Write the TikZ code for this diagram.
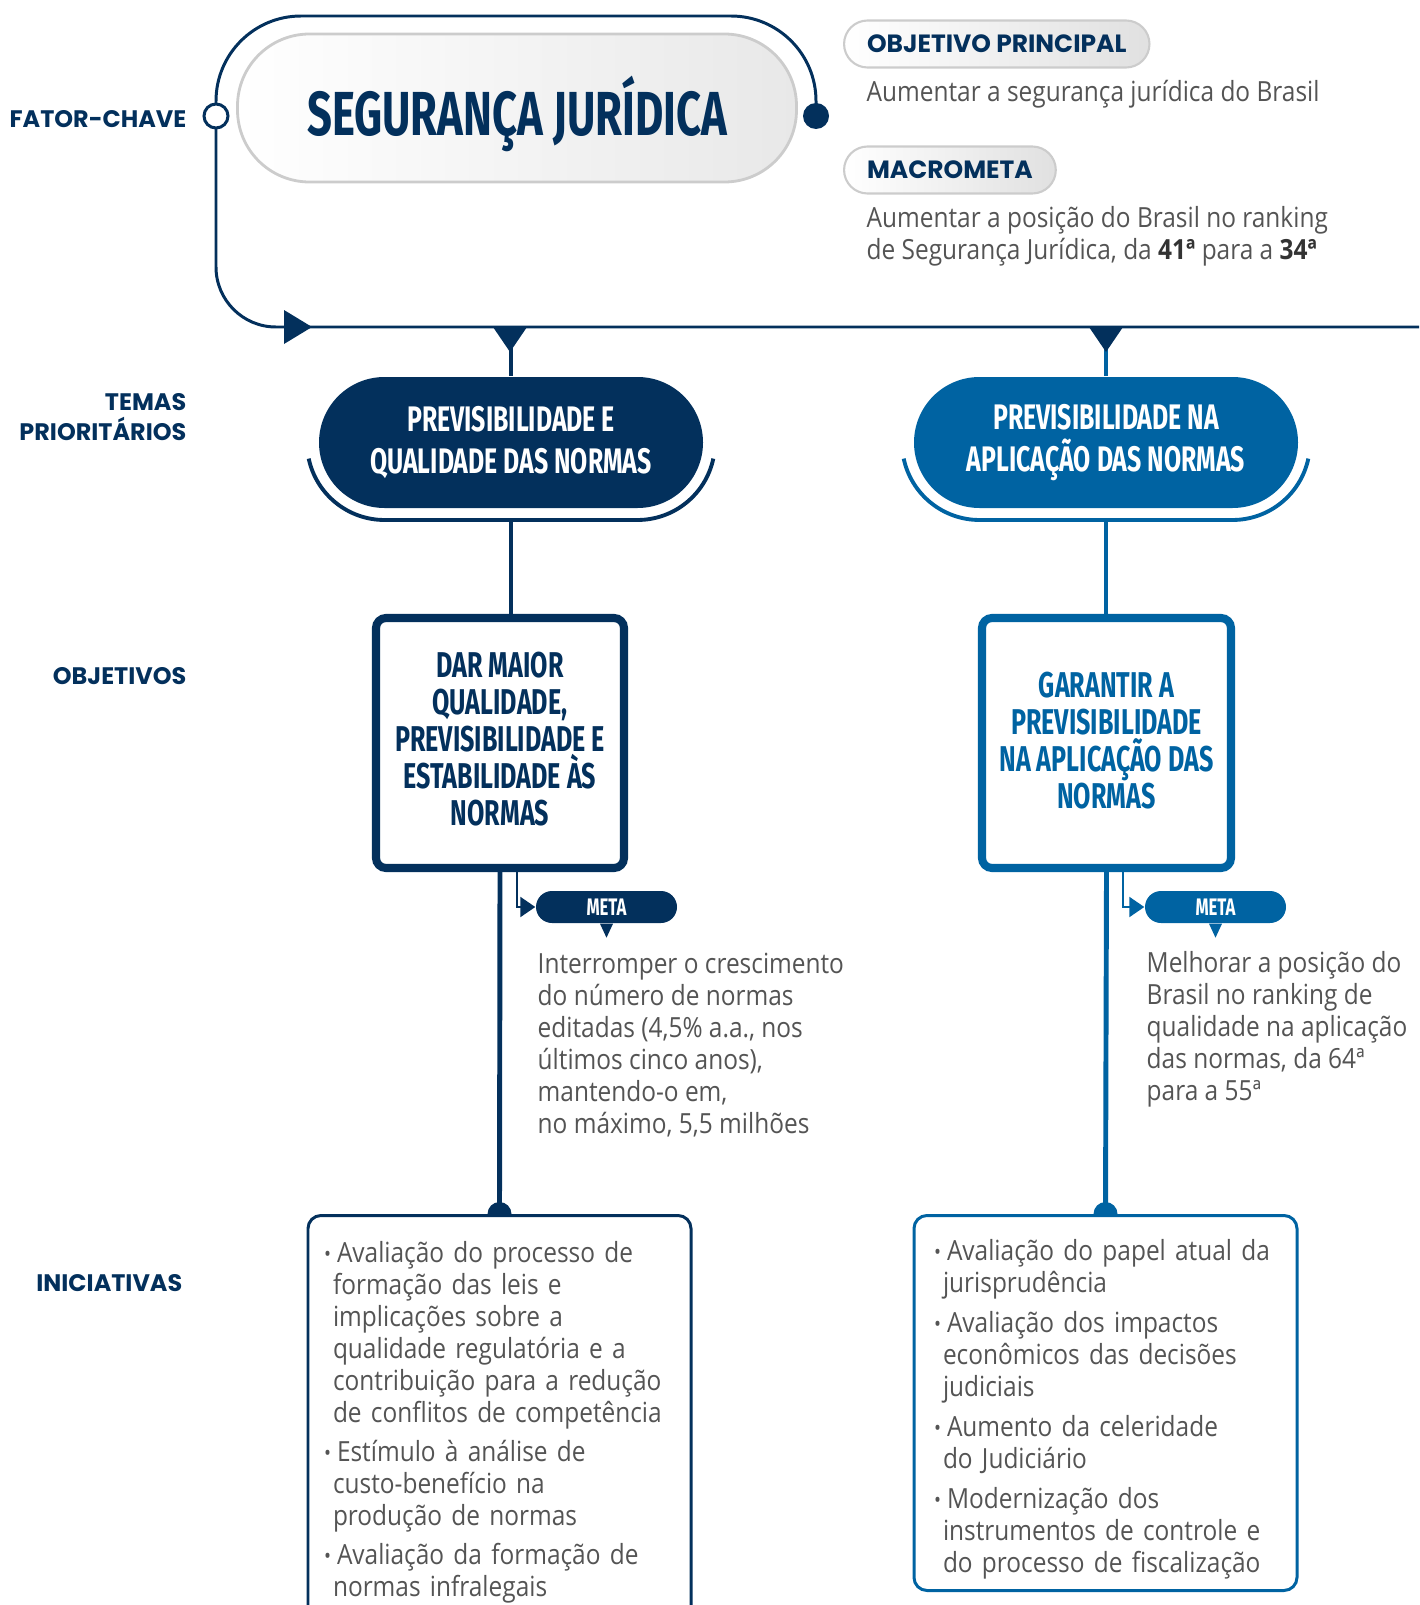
\documentclass[tikz,border=0pt]{standalone}
\usepackage{fontspec}
\setmainfont{Open Sans}[FakeStretch=0.88]
\newfontfamily\condfont{Fira Sans}[FakeStretch=0.70]
\newfontfamily\capsfont{Poppins}
\usetikzlibrary{arrows.meta, calc}
\definecolor{keynavy}{RGB}{3, 48, 92}
\definecolor{themeblue}{RGB}{0, 99, 162}
\definecolor{bodygray}{RGB}{84, 84, 84}
\definecolor{pillrim}{RGB}{204, 204, 204}
\newcommand{\initbullet}{\makebox[0.13cm][l]{\fontsize{6}{6}\selectfont\raisebox{0.3pt}{•}}}
\newcommand{\initindent}{\hspace*{0.09cm}}

\begin{document}
\begin{tikzpicture}[
  sidelabel/.style={font=\capsfont\bfseries\fontsize{6.8}{8.4}\selectfont, text=keynavy, align=right, anchor=east, inner sep=0},
  greypill/.style={draw=pillrim, line width=0.6pt, rounded corners=0.235cm, left color=white, right color=black!12, minimum height=0.47cm, inner xsep=0.23cm, anchor=west, font=\capsfont\bfseries\fontsize{7.1}{8.5}\selectfont, text=keynavy},
  bodytext/.style={font=\fontsize{7.9}{9.1}\selectfont, text=bodygray, align=left, inner sep=0},
  loopline/.style={draw=keynavy, line width=0.85pt},
  themepill/.style={rounded corners=0.655cm, minimum width=3.84cm, minimum height=1.31cm, text=white, align=center, font=\condfont\bfseries\fontsize{10.1}{11.9}\selectfont},
  cradle/.style={line width=1.1pt, draw=#1},
  stem/.style={line width=1.4pt, draw=#1},
  objbox/.style={draw=#1, text=#1, line width=2.3pt, rounded corners=0.1cm, fill=white, minimum height=2.50cm, align=center, font=\condfont\bfseries\fontsize{10.2}{10.5}\selectfont},
  metapill/.style={fill=#1, rounded corners=0.16cm, minimum width=1.41cm, minimum height=0.32cm, inner sep=0, text=white, font=\condfont\bfseries\fontsize{6.8}{8}\selectfont},
  metalink/.style={draw=#1, line width=0.6pt, -{Triangle[length=0.15cm, width=0.2cm]}},
  initbox/.style={draw=#1, line width=0.85pt, rounded corners=0.13cm, text width=3.43cm, inner xsep=0.20cm, align=left, text=bodygray, font=\fontsize{7.9}{9.1}\selectfont}
]
  \useasboundingbox (0,0) rectangle (14.19,-16.05);
  \clip (0,0) rectangle (14.19,-16.05);

  % Fator-chave
  \node[sidelabel] (keylabel) at (1.87,-1.19) {FATOR-CHAVE};
  \node[draw=pillrim, line width=0.8pt, rounded corners=0.72cm, left color=white, right color=black!9,
        minimum width=5.59cm, minimum height=1.48cm, text depth=0.05cm, text=keynavy,
        font=\condfont\bfseries\fontsize{17.7}{20}\selectfont] (key) at (5.17,-1.08) {SEGURANÇA JURÍDICA};
  \node[circle, fill=keynavy, minimum size=0.26cm, inner sep=0] (keydot) at (8.16,-1.16) {};
  \coordinate (looptop) at (2.16,-0.16);
  \coordinate (rail) at (14.19,-3.27);
  \draw[loopline, rounded corners=0.85cm] (keydot.center) |- (looptop) -- (2.16,-1.16);
  \draw[loopline, rounded corners=0.6cm] (2.16,-1.16) |- (rail);
  \node[circle, draw=keynavy, line width=0.85pt, fill=white, minimum size=0.24cm, inner sep=0] (keyring) at (2.16,-1.16) {};
  \fill[keynavy] (2.84,-3.10) -- (3.12,-3.27) -- (2.84,-3.44) -- cycle;

  % Objetivo principal e macrometa
  \node[greypill] (mainpill) at (8.43,-0.44) {OBJETIVO PRINCIPAL};
  \node[bodytext, anchor=west] (maintxt) at (8.66,-0.94) {Aumentar a segurança jurídica do Brasil};
  \node[greypill] (macropill) at (8.43,-1.70) {MACROMETA};
  \node[bodytext, anchor=west] (macrotxt) at (8.66,-2.36) {Aumentar a posição do Brasil no ranking\\de Segurança Jurídica, da {\color{black!80}\textbf{41ª}} para a {\color{black!80}\textbf{34ª}}};

  % Temas prioritarios
  \node[sidelabel] (themelabel) at (1.87,-4.17) {TEMAS\\PRIORITÁRIOS};
  \node[themepill, fill=keynavy] (themeL) at (5.11,-4.425) {PREVISIBILIDADE E\\QUALIDADE DAS NORMAS};
  \node[themepill, fill=themeblue] (themeR) at (11.06,-4.425) {PREVISIBILIDADE NA\\APLICAÇÃO DAS NORMAS};
  \draw[stem=keynavy] (themeL.north |- rail) -- (themeL.north);
  \draw[stem=themeblue] (themeR.north |- rail) -- (themeR.north);
  \foreach \tx in {5.10, 11.06} {
    \fill[keynavy] (\tx-0.17,-3.27) -- (\tx+0.17,-3.27) -- (\tx,-3.52) -- cycle;
  }
  \foreach \th/\tc in {themeL/keynavy, themeR/themeblue} {
    \draw[cradle=\tc] ($(\th.center)+(-2.023,-0.161)$) arc[start angle=192, end angle=270, radius=0.775]
      -- ++(2.53,0) arc[start angle=270, end angle=348, radius=0.775];
  }

  % Objetivos
  \node[sidelabel] (objlabel) at (1.87,-6.76) {OBJETIVOS};
  \node[objbox=keynavy, minimum width=2.48cm] (objL) at (5.00,-7.43) {DAR MAIOR\\QUALIDADE,\\PREVISIBILIDADE E\\ESTABILIDADE ÀS\\NORMAS\rule[-0.08cm]{0pt}{0pt}};
  \node[objbox=themeblue, minimum width=2.49cm] (objR) at (11.065,-7.43) {GARANTIR A\\PREVISIBILIDADE\\NA APLICAÇÃO DAS\\NORMAS\rule[-0.06cm]{0pt}{0pt}};
  \draw[stem=keynavy] ([yshift=-0.775cm]themeL.center) -- (themeL.center |- objL.north);
  \draw[stem=themeblue] ([yshift=-0.775cm]themeR.center) -- (themeR.center |- objR.north);

  % Metas
  \node[metapill=keynavy] (metaL) at (6.065,-9.07) {META};
  \node[metapill=themeblue] (metaR) at (12.155,-9.07) {META};
  \draw[metalink=keynavy] ([xshift=0.17cm]objL.south) |- (metaL.west);
  \draw[metalink=themeblue] ([xshift=0.165cm]objR.south) |- (metaR.west);
  \fill[keynavy] ([xshift=-0.065cm]metaL.south) -- ([xshift=0.065cm]metaL.south) -- ([yshift=-0.14cm]metaL.south) -- cycle;
  \fill[themeblue] ([xshift=-0.065cm]metaR.south) -- ([xshift=0.065cm]metaR.south) -- ([yshift=-0.14cm]metaR.south) -- cycle;
  \node[bodytext, anchor=north west] (metatxtL) at (5.37,-9.52) {Interromper o crescimento\\do número de normas\\editadas (4,5\% a.a., nos\\últimos cinco anos),\\mantendo-o em,\\no máximo, 5,5 milhões};
  \node[bodytext, anchor=north west] (metatxtR) at (11.46,-9.51) {Melhorar a posição do\\Brasil no ranking de\\qualidade na aplicação\\das normas, da 64ª\\para a 55ª};

  % Iniciativas
  \node[sidelabel] (initlabel) at (1.83,-12.83) {INICIATIVAS};
  \node[initbox=keynavy, anchor=north, inner ysep=0.26cm, inner xsep=0.16cm, text width=3.51cm] (initL) at (4.995,-12.14) {%
    \initbullet Avaliação do processo de\\
    \initindent formação das leis e\\
    \initindent implicações sobre a\\
    \initindent qualidade regulatória e a\\
    \initindent contribuição para a redução\\
    \initindent de conflitos de competência\\[0.07cm]
    \initbullet Estímulo à análise de\\
    \initindent custo-benefício na\\
    \initindent produção de normas\\[0.07cm]
    \initbullet Avaliação da formação de\\
    \initindent normas infralegais};
  \node[initbox=themeblue, anchor=north, minimum height=3.75cm] (initR) at (11.055,-12.14) {%
    \rule{0pt}{0.33cm}\initbullet Avaliação do papel atual da\\
    \initindent jurisprudência\\[0.08cm]
    \initbullet Avaliação dos impactos\\
    \initindent econômicos das decisões\\
    \initindent judiciais\\[0.08cm]
    \initbullet Aumento da celeridade\\
    \initindent do Judiciário\\[0.08cm]
    \initbullet Modernização dos\\
    \initindent instrumentos de controle e\\
    \initindent do processo de fiscalização};
  \draw[stem=keynavy] (objL.south) -- (initL.north);
  \draw[stem=themeblue] (objR.south) -- (initR.north);
  \fill[keynavy] ([xshift=-0.12cm]initL.north) arc[start angle=180, end angle=0, radius=0.12] -- cycle;
  \fill[themeblue] ([xshift=-0.12cm]initR.north) arc[start angle=180, end angle=0, radius=0.12] -- cycle;
\end{tikzpicture}
\end{document}
